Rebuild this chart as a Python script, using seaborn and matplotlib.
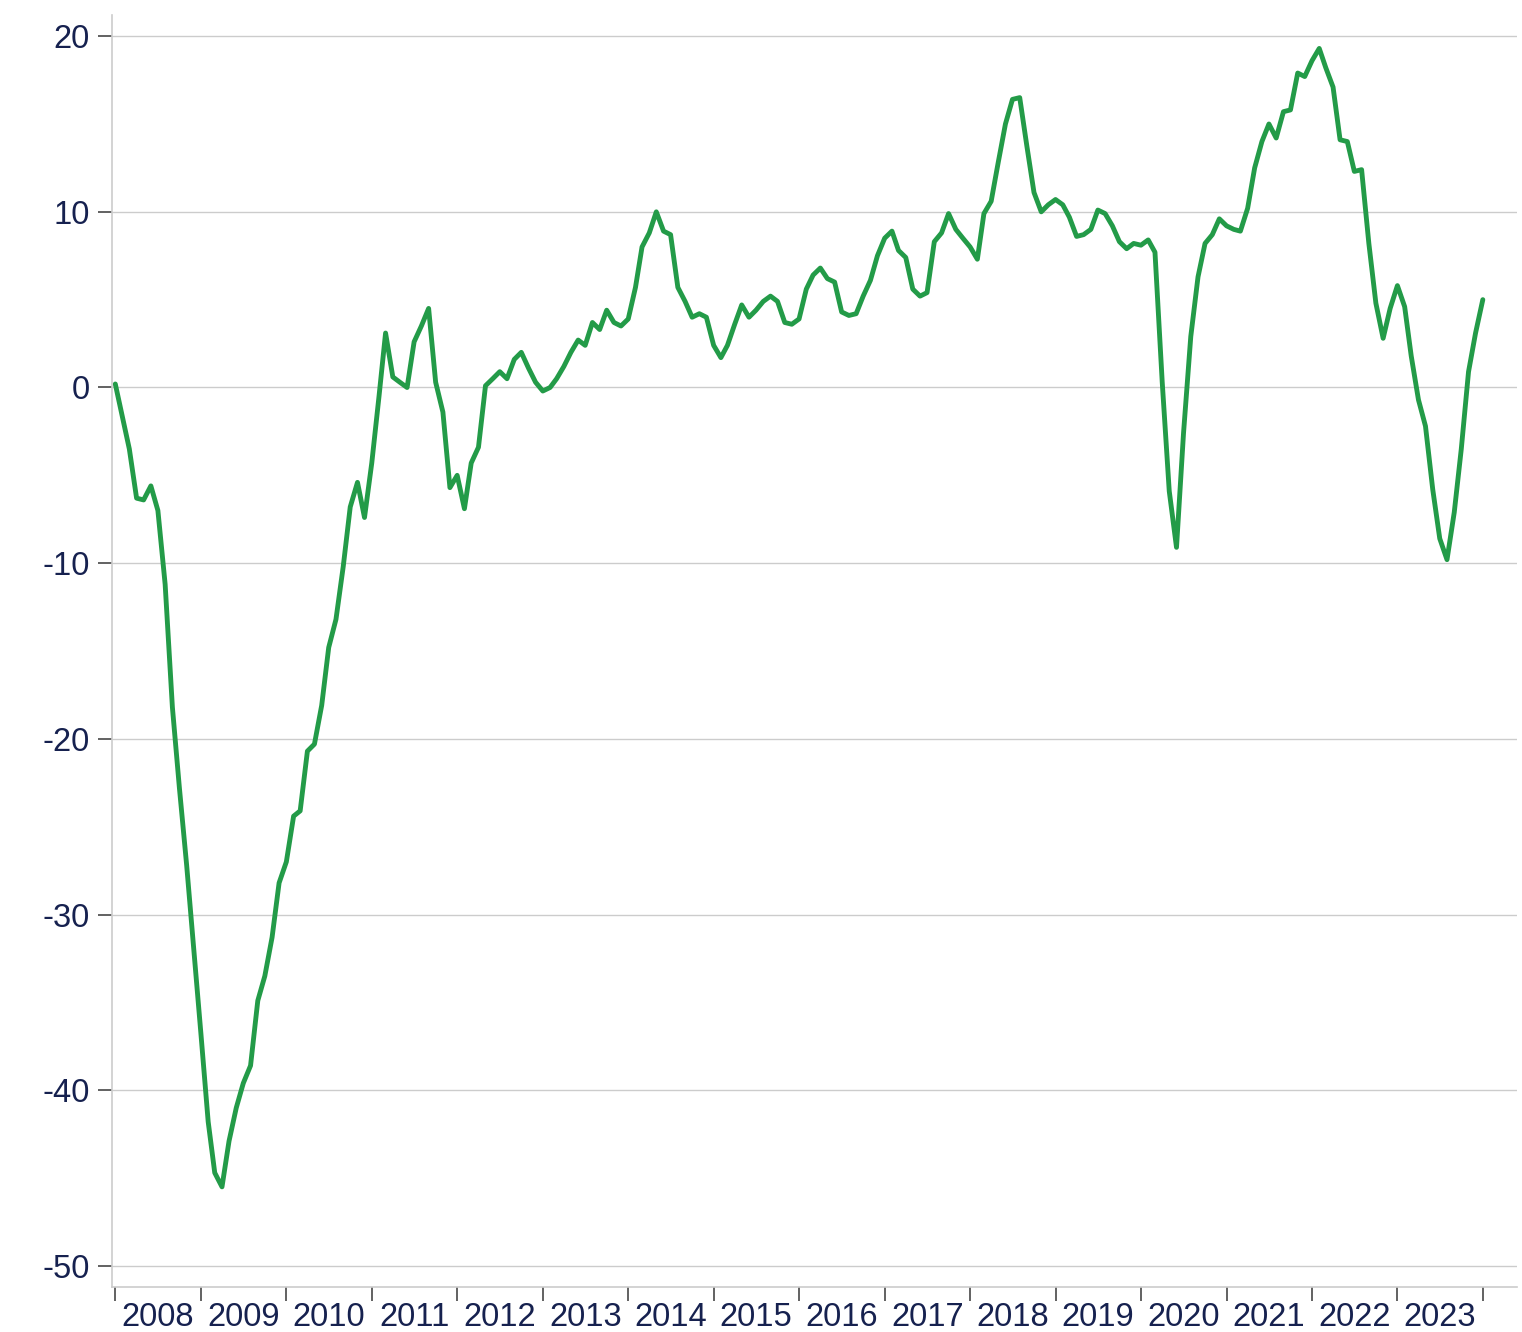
import pandas as pd
import seaborn as sns
import numpy as np
import matplotlib.pyplot as plt
import matplotlib.dates as mdates

# monthly series, Jan 2008 .. Jan 2024
start_month = '2008-01-01'
values = [
    0.2, -1.7, -3.5, -6.3, -6.4, -5.6, -7.0, -11.2, -18.2, -22.8, -27.2, -31.9,      # 2008
    -36.8, -41.8, -44.7, -45.5, -42.9, -41.0, -39.6, -38.6, -34.9, -33.5, -31.3, -28.2,  # 2009
    -27.0, -24.4, -24.1, -20.7, -20.3, -18.1, -14.8, -13.2, -10.2, -6.8, -5.4, -7.4,  # 2010
    -4.3, -0.5, 3.1, 0.6, 0.3, 0.0, 2.6, 3.5, 4.5, 0.3, -1.4, -5.7,                  # 2011
    -5.0, -6.9, -4.3, -3.4, 0.1, 0.5, 0.9, 0.5, 1.6, 2.0, 1.1, 0.3,                  # 2012
    -0.2, 0.0, 0.5, 1.2, 2.0, 2.7, 2.4, 3.7, 3.3, 4.4, 3.7, 3.5,                     # 2013
    3.9, 5.7, 8.0, 8.8, 10.0, 8.9, 8.7, 5.7, 4.9, 4.0, 4.2, 4.0,                     # 2014
    2.4, 1.7, 2.4, 3.6, 4.7, 4.0, 4.4, 4.9, 5.2, 4.9, 3.7, 3.6,                      # 2015
    3.9, 5.6, 6.4, 6.8, 6.2, 6.0, 4.3, 4.1, 4.2, 5.2, 6.1, 7.5,                      # 2016
    8.5, 8.9, 7.8, 7.4, 5.6, 5.2, 5.4, 8.3, 8.8, 9.9, 9.0, 8.5,                      # 2017
    8.0, 7.3, 9.9, 10.6, 12.8, 15.0, 16.4, 16.5, 13.7, 11.1, 10.0, 10.4,             # 2018
    10.7, 10.4, 9.7, 8.6, 8.7, 9.0, 10.1, 9.9, 9.2, 8.3, 7.9, 8.2,                   # 2019
    8.1, 8.4, 7.7, 0.3, -5.9, -9.1, -2.6, 2.9, 6.3, 8.2, 8.7, 9.6,                   # 2020
    9.2, 9.0, 8.9, 10.2, 12.5, 14.0, 15.0, 14.2, 15.7, 15.8, 17.9, 17.7,             # 2021
    18.6, 19.3, 18.2, 17.1, 14.1, 14.0, 12.3, 12.4, 8.2, 4.8, 2.8, 4.5,              # 2022
    5.8, 4.6, 1.8, -0.7, -2.2, -5.8, -8.6, -9.8, -7.1, -3.5, 0.9, 3.1,               # 2023
    5.0,                                                                            # 2024
]
years = list(range(2008, 2025))
year_labels = [str(y) for y in range(2008, 2024)]
y_ticks = [-50, -40, -30, -20, -10, 0, 10, 20]

dates = pd.date_range(start_month, periods=len(values), freq='MS')
df = pd.DataFrame({'date': dates, 'value': values})

sns.set_style('white')
plt.rcParams['font.family'] = ['Liberation Sans', 'DejaVu Sans']
text_col = '#16214f'
grid_col = '#cccccc'

fig = plt.figure(figsize=(15.22, 13.32), dpi=100)
ax = fig.add_axes([0.0736, 0.0338, 0.9231, 0.9549])

sns.lineplot(data=df, x='date', y='value', color='#239b48', lw=3.5, ax=ax)

ax.set_ylim(-51.2, 21.2)
ax.set_xlim(pd.Timestamp('2007-12-18'), pd.Timestamp('2024-05-26'))
ax.set_yticks(y_ticks)
ax.set_yticklabels([str(v) for v in y_ticks])
ax.yaxis.grid(True, color=grid_col, lw=1.0)
ax.xaxis.grid(False)

# year boundaries as ticks, labels centred between them
ax.set_xticks([pd.Timestamp(f'{y}-01-01') for y in years])
ax.set_xticklabels([])
ax.set_xticks([pd.Timestamp(f'{y}-07-02') for y in years[:-1]], minor=True)
ax.set_xticklabels(year_labels, minor=True)
ax.tick_params(axis='x', which='major', direction='out', length=10, width=1.3,
               color='#555555', bottom=True)
ax.tick_params(axis='x', which='minor', length=0, pad=11, labelsize=23.5,
               labelcolor=text_col, bottom=True)
ax.tick_params(axis='y', direction='out', length=10, width=1.3, color='#555555',
               pad=6, labelsize=23.5, labelcolor=text_col, left=True)

for s in ['top', 'right']:
    ax.spines[s].set_visible(False)
for s in ['left', 'bottom']:
    ax.spines[s].set_color(grid_col)
    ax.spines[s].set_linewidth(1.2)

ax.set_xlabel('')
ax.set_ylabel('')

fig.savefig('out.png', dpi=100)
